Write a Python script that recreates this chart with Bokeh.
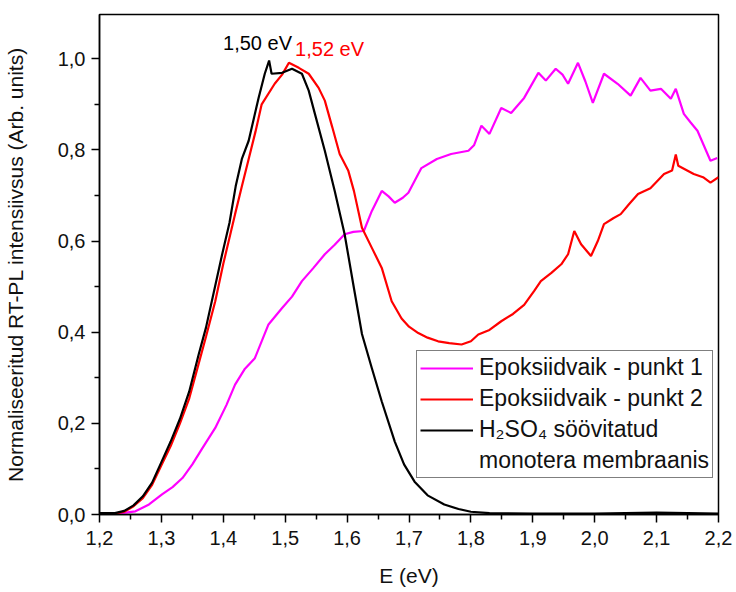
from bokeh.plotting import figure
from bokeh.models import Range1d, FixedTicker, CustomJSTickFormatter, Legend, LegendItem
from bokeh.core.properties import value
from bokeh.embed import file_html
from bokeh.resources import INLINE

FONT = "Liberation Sans"

# Epoksiidvaik - punkt 1
e_p1 = [1.230, 1.258, 1.280, 1.301, 1.318, 1.334, 1.350, 1.366, 1.387, 1.405,
        1.419, 1.435, 1.451, 1.473, 1.495, 1.511, 1.527, 1.545, 1.564, 1.580,
        1.596, 1.610, 1.627, 1.640, 1.656, 1.667, 1.677, 1.690, 1.699, 1.720,
        1.745, 1.768, 1.796, 1.805, 1.817, 1.830, 1.849, 1.865, 1.886, 1.909,
        1.921, 1.937, 1.948, 1.957, 1.973, 1.985, 1.997, 2.015, 2.037, 2.058,
        2.074, 2.090, 2.107, 2.123, 2.131, 2.144, 2.155, 2.166, 2.187, 2.198]
i_p1 = [0.002, 0.007, 0.022, 0.044, 0.060, 0.080, 0.110, 0.145, 0.190, 0.240,
        0.285, 0.320, 0.343, 0.417, 0.453, 0.478, 0.512, 0.540, 0.571, 0.592,
        0.615, 0.620, 0.622, 0.666, 0.710, 0.698, 0.684, 0.695, 0.706, 0.760,
        0.780, 0.791, 0.798, 0.810, 0.853, 0.835, 0.892, 0.881, 0.914, 0.969,
        0.952, 0.978, 0.965, 0.945, 0.991, 0.950, 0.903, 0.967, 0.945, 0.919,
        0.958, 0.930, 0.934, 0.912, 0.934, 0.879, 0.860, 0.842, 0.776, 0.782]

# Epoksiidvaik - punkt 2
e_p2 = [1.225, 1.240, 1.255, 1.270, 1.285, 1.300, 1.315, 1.330, 1.345, 1.360,
        1.372, 1.387, 1.400, 1.419, 1.430, 1.441, 1.452, 1.462, 1.483, 1.495,
        1.506, 1.522, 1.538, 1.554, 1.564, 1.576, 1.588, 1.602, 1.611, 1.624,
        1.640, 1.656, 1.672, 1.688, 1.700, 1.715, 1.730, 1.747, 1.765, 1.785,
        1.800, 1.812, 1.830, 1.849, 1.868, 1.886, 1.902, 1.913, 1.930, 1.946,
        1.957, 1.967, 1.978, 1.994, 2.005, 2.015, 2.030, 2.042, 2.055, 2.070,
        2.090, 2.112, 2.125, 2.131, 2.135, 2.160, 2.175, 2.187, 2.200]
i_p2 = [0.002, 0.006, 0.018, 0.036, 0.065, 0.108, 0.150, 0.200, 0.255, 0.330,
        0.390, 0.468, 0.550, 0.659, 0.720, 0.780, 0.840, 0.900, 0.945, 0.965,
        0.991, 0.980, 0.967, 0.936, 0.908, 0.850, 0.791, 0.754, 0.710, 0.629,
        0.585, 0.541, 0.468, 0.430, 0.412, 0.398, 0.388, 0.380, 0.376, 0.373,
        0.380, 0.395, 0.405, 0.424, 0.440, 0.460, 0.490, 0.512, 0.530, 0.549,
        0.571, 0.622, 0.593, 0.567, 0.600, 0.637, 0.650, 0.659, 0.680, 0.703,
        0.716, 0.747, 0.755, 0.790, 0.765, 0.747, 0.740, 0.728, 0.740]

# H2SO4 söövitatud monotera membraanis
e_h2so4 = [1.200, 1.225, 1.240, 1.255, 1.270, 1.285, 1.300, 1.315, 1.330, 1.345,
           1.360, 1.372, 1.385, 1.398, 1.410, 1.420, 1.430, 1.441, 1.457, 1.467,
           1.474, 1.478, 1.495, 1.511, 1.527, 1.538, 1.548, 1.564, 1.580, 1.596,
           1.611, 1.624, 1.640, 1.656, 1.677, 1.692, 1.709, 1.730, 1.757, 1.780,
           1.800, 1.830, 1.900, 2.000, 2.100, 2.150, 2.200]
i_h2so4 = [0.003, 0.003, 0.008, 0.020, 0.040, 0.070, 0.115, 0.160, 0.210, 0.270,
           0.350, 0.410, 0.490, 0.570, 0.640, 0.720, 0.780, 0.820, 0.914, 0.967,
           0.996, 0.967, 0.969, 0.978, 0.967, 0.930, 0.879, 0.798, 0.710, 0.615,
           0.497, 0.396, 0.321, 0.248, 0.160, 0.110, 0.072, 0.042, 0.022, 0.012,
           0.006, 0.003, 0.002, 0.002, 0.004, 0.003, 0.002]

# peak positions quoted above the curves
peak_e = [1.50, 1.52]
peak_labels = ["1,50 eV", "1,52 eV"]

x_ticks = [1.2, 1.3, 1.4, 1.5, 1.6, 1.7, 1.8, 1.9, 2.0, 2.1, 2.2]
x_minor = [1.25, 1.35, 1.45, 1.55, 1.65, 1.75, 1.85, 1.95, 2.05, 2.15]
y_ticks = [0.0, 0.2, 0.4, 0.6, 0.8, 1.0]
y_minor = [0.1, 0.3, 0.5, 0.7, 0.9]

p = figure(width=736, height=592, output_backend="svg", toolbar_location=None,
           x_range=Range1d(1.2, 2.2), y_range=Range1d(0.0, 1.097),
           min_border_left=97, min_border_right=18, min_border_top=14,
           min_border_bottom=78)

p.grid.visible = False
p.outline_line_color = "black"
p.outline_line_width = 1.5
p.background_fill_color = "white"
p.border_fill_color = "white"

comma = CustomJSTickFormatter(code="return tick.toFixed(1).replace('.', ',');")
p.xaxis.ticker = FixedTicker(ticks=x_ticks, minor_ticks=x_minor)
p.yaxis.ticker = FixedTicker(ticks=y_ticks, minor_ticks=y_minor)
for ax in (p.xaxis[0], p.yaxis[0]):
    ax.formatter = comma
    ax.axis_line_width = 1.5
    ax.axis_line_color = "black"
    ax.major_tick_line_color = "black"
    ax.major_tick_line_width = 1.5
    ax.minor_tick_line_color = "black"
    ax.minor_tick_line_width = 1.5
    ax.major_tick_in = 0
    ax.major_tick_out = 8
    ax.minor_tick_in = 0
    ax.minor_tick_out = 5
    ax.major_label_text_font = FONT
    ax.major_label_text_font_size = "20px"
    ax.major_label_text_color = "#111111"
    ax.axis_label_text_font = FONT
    ax.axis_label_text_font_size = "21px"
    ax.axis_label_text_font_style = "normal"
    ax.axis_label_text_color = "#111111"

p.xaxis.axis_label = "E (eV)"
p.xaxis.major_label_standoff = 8
p.xaxis.axis_label_standoff = 16
p.yaxis.axis_label = "Normaliseeritud RT-PL intensiivsus (Arb. units)"
p.yaxis.major_label_standoff = 6
p.yaxis.axis_label_standoff = 28

r_p1 = p.line(e_p1, i_p1, line_color="#ff00ff", line_width=2.2)
r_p2 = p.line(e_p2, i_p2, line_color="#ff0000", line_width=2.2)
r_h = p.line(e_h2so4, i_h2so4, line_color="black", line_width=2.2)
r_blank = p.line([], [], line_alpha=0)

# peak annotations
p.text(x=[peak_e[0] + 0.011], y=[1.035], text=[peak_labels[0]],
       text_font=value(FONT), text_font_size="20px", text_color="black",
       text_align="right", text_baseline="middle")
p.text(x=[peak_e[1] - 0.004], y=[1.022], text=[peak_labels[1]],
       text_font=value(FONT), text_font_size="20px", text_color="#ff0000",
       text_align="left", text_baseline="middle")

legend = Legend(items=[
    LegendItem(label="Epoksiidvaik - punkt 1", renderers=[r_p1]),
    LegendItem(label="Epoksiidvaik - punkt 2", renderers=[r_p2]),
    LegendItem(label="H\u2082SO\u2084 söövitatud", renderers=[r_h]),
    LegendItem(label="monotera membraanis", renderers=[r_blank]),
], location=(317, 36))
legend.label_text_font = FONT
legend.label_text_font_size = "23px"
legend.label_text_color = "#111111"
legend.label_height = 26
legend.label_standoff = 6
legend.glyph_width = 53
legend.glyph_height = 26
legend.spacing = 4
legend.padding = 3
legend.margin = 0
legend.border_line_color = "black"
legend.border_line_width = 1.5
legend.background_fill_alpha = 1.0
p.add_layout(legend)

open("out.html", "w").write(file_html(p, INLINE))
